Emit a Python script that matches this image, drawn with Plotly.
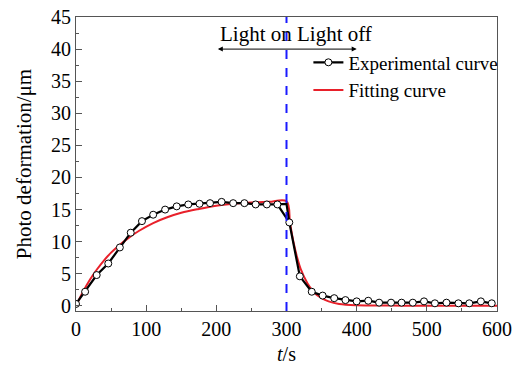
import plotly.graph_objects as go

# Experimental curve (markers)
exp_t = [0, 13, 29.5, 46, 62.5, 78, 94, 110, 127, 143.5, 160, 176, 191, 207.5, 224, 240, 256, 272, 287,
         304, 319, 336, 351.5, 368, 384, 400, 416.5, 432, 449, 464, 480, 496, 511.5, 528, 545, 560.5, 577, 592.5]
exp_v = [0.3, 2.2, 4.8, 6.6, 9.1, 11.4, 13.2, 14.2, 15.0, 15.5, 15.8, 15.9, 16.0, 16.2, 16.0, 16.0, 15.8, 15.8, 15.8,
         13.0, 4.6, 2.2, 1.6, 1.2, 0.9, 0.7, 0.8, 0.5, 0.5, 0.5, 0.5, 0.7, 0.4, 0.5, 0.4, 0.4, 0.7, 0.4]
# flat part of the experimental line up to the moment the light is switched off
step_t = [287, 300, 304]
step_v = [15.8, 15.9, 13.0]

# Fitting curve
fit_t = [0, 10, 20, 30, 40, 50, 60, 75, 90, 110, 130, 150, 175, 200, 225, 250, 275, 300,
         305, 310, 315, 320, 330, 340, 350, 360, 375, 400, 450, 500, 600]
fit_v = [0.0, 2.2, 4.1, 5.7, 7.1, 8.3, 9.3, 10.6, 11.7, 12.9, 13.8, 14.5, 15.1, 15.6, 15.9, 16.1, 16.2, 16.3,
         12.9, 9.9, 7.6, 5.8, 3.5, 2.0, 1.2, 0.7, 0.3, 0.1, 0.05, 0.0, 0.0]

light_switch = 300
arrow_from, arrow_to, arrow_y = 200, 400, 40

FONT = "Liberation Serif"

fig = go.Figure()
fig.add_trace(go.Scatter(x=fit_t, y=fit_v, mode="lines", line=dict(color="#e8202a", width=2, shape="spline"),
                         name="Fitting curve", legendrank=2))
fig.add_trace(go.Scatter(x=step_t, y=step_v, mode="lines", line=dict(color="black", width=2.2),
                         showlegend=False, hoverinfo="skip"))
fig.add_trace(go.Scatter(x=exp_t, y=exp_v, mode="lines+markers", line=dict(color="black", width=2.2),
                         marker=dict(symbol="circle", size=7, color="white", line=dict(color="black", width=1)),
                         name="Experimental curve", legendrank=1))

fig.add_shape(type="line", x0=light_switch, x1=light_switch, y0=0, y1=1, yref="paper",
              line=dict(color="#1a1aff", width=2, dash="dash"))

fig.add_annotation(x=arrow_to, y=arrow_y, ax=arrow_from, ay=arrow_y, axref="x", ayref="y",
                   xref="x", yref="y", text="", showarrow=True, arrowhead=2, arrowside="end+start",
                   arrowsize=1, arrowwidth=1, arrowcolor="black")
fig.add_annotation(x=313, y=42.3, xref="x", yref="y", text="Light on Light off", showarrow=False,
                   font=dict(family=FONT, size=21, color="black"), xanchor="center", yanchor="middle")

axis_common = dict(showline=True, linecolor="#555555", linewidth=1, mirror=True, ticks="inside",
                   tickcolor="#555555", ticklen=6, showgrid=False, zeroline=False, automargin=False,
                   tickfont=dict(family=FONT, size=20, color="black"))

fig.update_xaxes(range=[0, 600], dtick=100, tick0=0,
                 minor=dict(ticks="inside", dtick=50, ticklen=3, tickcolor="#555555"),
                 title=dict(text="<i>t</i>/s", font=dict(family=FONT, size=20, color="black"), standoff=7),
                 **axis_common)
fig.update_yaxes(range=[-0.8, 45], dtick=5, tick0=0,
                 minor=dict(ticks="inside", dtick=2.5, ticklen=3, tickcolor="#555555"),
                 title=dict(text="Photo deformation/μm", font=dict(family=FONT, size=21, color="black"), standoff=13),
                 **axis_common)

fig.update_layout(
    width=518, height=365,
    margin=dict(l=76, r=21, t=17, b=54, autoexpand=False),
    paper_bgcolor="white", plot_bgcolor="white",
    font=dict(family=FONT, size=19, color="black"),
    showlegend=True,
    legend=dict(x=0.552, y=0.91, xanchor="left", yanchor="top", bgcolor="rgba(0,0,0,0)",
                font=dict(family=FONT, size=19, color="black"), tracegroupgap=0, itemwidth=30),
)

fig.write_html("out.html")
